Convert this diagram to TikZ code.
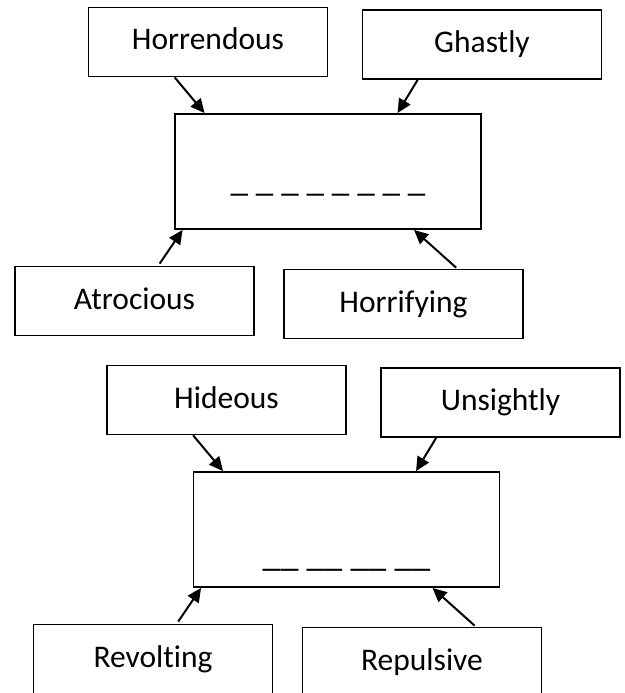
\documentclass[tikz,border=0pt]{standalone}
\usepackage{fontspec}
\setmainfont{Carlito}[Ligatures=NoCommon]
\usetikzlibrary{arrows.meta}
\tikzset{
  word/.style={
    draw=black,
    line width=1.7pt,
    minimum width=239pt,
    minimum height=69pt,
    inner sep=0pt,
    font=\fontsize{31.5}{36}\selectfont,
    text height=23pt,
    text depth=7pt
  },
  blank/.style={draw=black, line width=1.9pt, minimum width=306pt, minimum height=115pt, inner sep=0pt},
  dashline/.style={inner sep=0pt, anchor=base},
  arr/.style={line width=2pt, -{Triangle[length=14pt,width=13pt]}},
}
\newcommand{\WordWeb}[8]{%
  \begin{scope}[shift={#2}]
    \node[blank] (#1mid) at (0,0) {};
    \node[dashline] (#1line) at ([yshift=#4]#1mid.center) {#3};
    \node[word] (#1nw) at (-120,-129.5) {#5};
    \node[word] (#1ne) at (154,-127) {#6};
    \node[word] (#1sw) at (-193.5,129.5) {#7};
    \node[word] (#1se) at (75.5,132.5) {#8};
    \draw[arr] ([xshift=87pt]#1nw.south west) -- ([xshift=30.5pt]#1mid.north west);
    \draw[arr] ([xshift=56pt]#1ne.south west) -- ([xshift=223.5pt]#1mid.north west);
    \draw[arr] ([xshift=145.5pt,yshift=2pt]#1sw.north west) -- ([xshift=8.5pt]#1mid.south west);
    \draw[arr] ([xshift=173pt,yshift=1pt]#1se.north west) -- ([xshift=240pt]#1mid.south west);
  \end{scope}
}

\begin{document}
\begin{tikzpicture}[x=1pt, y=-1pt]
  \useasboundingbox[fill=white] (0,0) rectangle (624,693);
  \WordWeb{T}{(328,171.5)}{\fontsize{35}{40}\selectfont\_ \_ \_ \_ \_ \_ \_ \_}{-20pt}%
    {Horrendous}{Ghastly}{Atrocious}{Horrifying}
  \WordWeb{B}{(346.5,529.5)}{\fontsize{36}{40}\selectfont\_\_ \_\_ \_\_ \_\_}{-36.5pt}%
    {Hideous}{Unsightly}{Revolting}{Repulsive}
\end{tikzpicture}
\end{document}
